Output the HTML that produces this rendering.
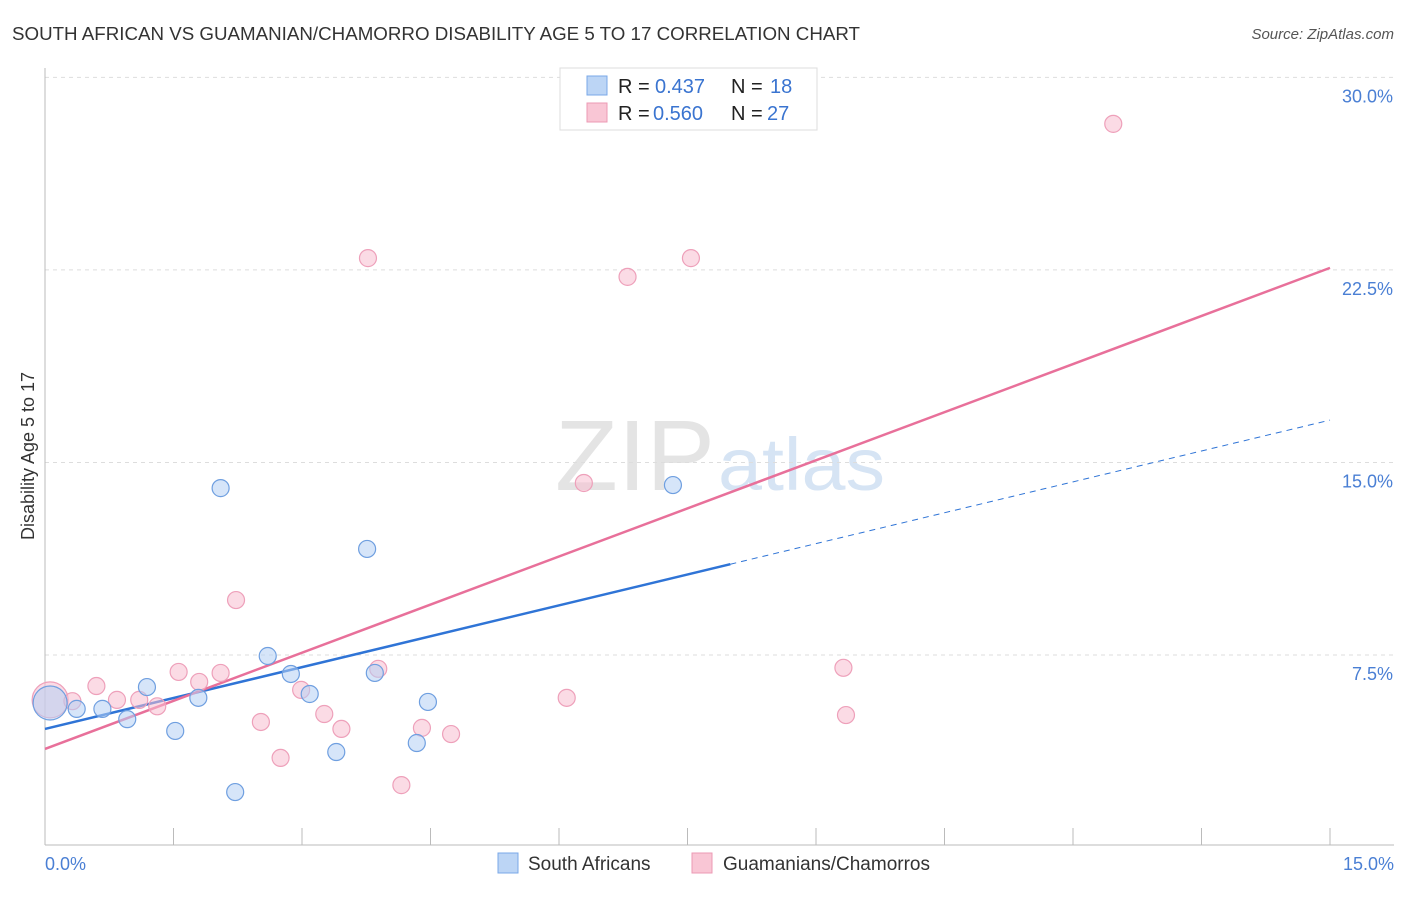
<!DOCTYPE html>
<html><head><meta charset="utf-8"><style>
body{margin:0;background:#fff;font-family:"Liberation Sans",sans-serif;}
svg text{font-family:"Liberation Sans",sans-serif;}
</style></head><body>
<svg width="1406" height="892" viewBox="0 0 1406 892">
<text x="12" y="40" font-size="18" fill="#333" textLength="848" lengthAdjust="spacingAndGlyphs">SOUTH AFRICAN VS GUAMANIAN/CHAMORRO DISABILITY AGE 5 TO 17 CORRELATION CHART</text>
<text x="1394" y="39" font-size="15" fill="#555" font-style="italic" text-anchor="end">Source: ZipAtlas.com</text>
<text x="715" y="490" font-size="100" fill="#e4e4e4" text-anchor="end" font-family="Liberation Serif" textLength="160" lengthAdjust="spacingAndGlyphs">ZIP</text>
<text x="718" y="490" font-size="74" fill="#d6e4f4" textLength="167" lengthAdjust="spacingAndGlyphs">atlas</text>
<g id="grid"></g>
<line x1="45" y1="68" x2="45" y2="845" stroke="#bbb"/>
<line x1="45" y1="845" x2="1394" y2="845" stroke="#bbb"/>
<g id="ticks"></g>
<text x="34" y="456" font-size="18" fill="#333" text-anchor="middle" transform="rotate(-90 34 456)">Disability Age 5 to 17</text>
<text x="45" y="870" font-size="18" fill="#4a7fd4">0.0%</text>
<text x="1394" y="870" font-size="18" fill="#4a7fd4" text-anchor="end">15.0%</text>
<g id="lines"></g>
<g id="points"></g>
<g>
<rect x="560" y="68" width="257" height="62" fill="#fff" stroke="#ddd"/>
<rect x="587" y="76" width="20" height="19" fill="#bcd5f5" stroke="#7aa8e8"/>
<rect x="587" y="103" width="20" height="19" fill="#f9c6d5" stroke="#ec9ab4"/>
<text x="618" y="93" font-size="20" fill="#222">R = <tspan x="655" fill="#3a74d0">0.437</tspan><tspan x="731">N = </tspan><tspan x="770" fill="#3a74d0">18</tspan></text>
<text x="618" y="120" font-size="20" fill="#222">R = <tspan x="653" fill="#3a74d0">0.560</tspan><tspan x="731">N = </tspan><tspan x="767" fill="#3a74d0">27</tspan></text>
</g>
<g>
<rect x="498" y="853" width="20" height="20" fill="#bcd5f5" stroke="#7aa8e8"/>
<text x="528" y="870" font-size="19" fill="#333">South Africans</text>
<rect x="692" y="853" width="20" height="20" fill="#f9c6d5" stroke="#ec9ab4"/>
<text x="723" y="870" font-size="19" fill="#333">Guamanians/Chamorros</text>
</g>
</svg>
<script>
const yTicks=[7.5,15,22.5,30];
const yTickLabels=["7.5%","15.0%","22.5%","30.0%"];
const xTicks=[1.5,3,4.5,6,7.5,9,10.5,12,13.5,15];
const blueX=[0.06,0.37,0.67,0.96,1.19,1.52,1.79,2.05,2.22,2.6,2.87,3.09,3.4,3.76,3.85,4.34,4.47,7.33];
const blueY=[5.63,5.4,5.4,5.0,6.25,4.54,5.83,14.0,2.16,7.46,6.76,5.98,3.72,11.63,6.8,4.07,5.67,14.12];
const pinkX=[0.06,0.32,0.6,0.84,1.1,1.31,1.56,1.8,2.05,2.23,2.52,2.75,2.99,3.26,3.46,3.77,3.89,4.16,4.4,4.74,6.09,6.29,6.8,7.54,9.32,9.35,12.47];
const pinkY=[5.75,5.7,6.29,5.75,5.75,5.5,6.84,6.45,6.8,9.64,4.89,3.49,6.14,5.2,4.62,22.96,6.96,2.43,4.66,4.42,5.83,14.2,22.23,22.96,7.0,5.16,28.19];
const blueTrend=[4.62,16.65];
const pinkTrend=[3.84,22.58];
const blueSolidEnd=8.0;
const NS="http://www.w3.org/2000/svg";
const xs=v=>45+v/15*1285;
const ys=v=>847.5-v*25.67;
function mk(t,a,p){const e=document.createElementNS(NS,t);for(const k in a)e.setAttribute(k,a[k]);document.getElementById(p).appendChild(e);return e;}
yTicks.forEach((v,i)=>{
 const l=mk('line',{x1:45,x2:1394,y1:ys(v),y2:ys(v),stroke:'#ddd','stroke-dasharray':'4,4'},'grid');
 
 
 const t=mk('text',{x:1393,y:ys(v)+25,'font-size':18,fill:'#4a7fd4','text-anchor':'end'},'grid');
 t.textContent=yTickLabels[i];
 
 
});
xTicks.forEach(v=>{
 const l=mk('line',{x1:xs(v),x2:xs(v),y1:828,y2:845,stroke:'#bbb'},'ticks');
 
 
});
const bAt=x=>blueTrend[0]+(blueTrend[1]-blueTrend[0])*x/15;
let l1=mk('line',{x1:xs(0),y1:ys(bAt(0)),x2:xs(blueSolidEnd),y2:ys(bAt(blueSolidEnd)),stroke:'#2f74d6','stroke-width':2.5},'lines');


let l2=mk('line',{x1:xs(blueSolidEnd),y1:ys(bAt(blueSolidEnd)),x2:xs(15),y2:ys(bAt(15)),stroke:'#2f74d6','stroke-width':1,'stroke-dasharray':'6,5'},'lines');


let l3=mk('line',{x1:xs(0),y1:ys(pinkTrend[0]),x2:xs(15),y2:ys(pinkTrend[1]),stroke:'#e8709a','stroke-width':2.5},'lines');


pinkX.forEach((x,i)=>{
 const c=mk('circle',{cx:xs(x),cy:ys(pinkY[i]),r:i===0?18:8.5,fill:'rgba(248,190,208,0.55)',stroke:'#eea0ba','stroke-width':1.2},'points');
 
 
});
blueX.forEach((x,i)=>{
 const c=mk('circle',{cx:xs(x),cy:ys(blueY[i]),r:i===0?17:8.5,fill:'rgba(180,208,244,0.55)',stroke:'#6f9fe0','stroke-width':1.2},'points');
 
 
});
</script>
</body></html>
